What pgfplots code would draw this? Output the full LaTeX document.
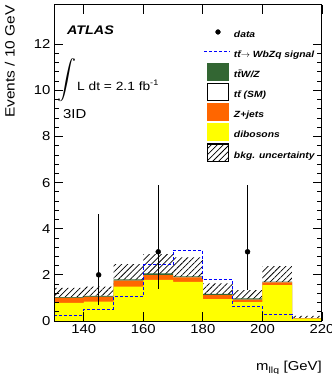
\documentclass[border=0pt]{standalone}
\usepackage{graphicx}
\usepackage{pgfplots}
\pgfplotsset{compat=1.18}
\usepgfplotslibrary{fillbetween}
\usetikzlibrary{patterns.meta}
\usepackage{fontspec}
\setmainfont{Liberation Sans}[FakeStretch=1.15]
\definecolor{dibo}{RGB}{255,255,0}
\definecolor{zjet}{RGB}{255,102,0}
\definecolor{ttv}{RGB}{51,102,51}
\definecolor{sig}{RGB}{0,0,255}
\tikzset{hatchp/.style={pattern={Lines[angle=45,distance=4.2bp,line width=0.75bp]},pattern color=black}}
\begin{document}
\begin{tikzpicture}
\begin{axis}[
  at={(0,0)}, anchor=south west,
  scale only axis, width=268bp, height=316bp,
  xmin=130, xmax=220, ymin=0, ymax=13.7,
  xtick={140,160,180,200,220}, ytick={0,2,4,6,8,10,12},
  minor y tick num=4,
  xtick pos=both, ytick pos=both,
  tick align=inside,
  major tick length=9bp, minor tick length=4.5bp,
  tick style={line width=0.8bp, black},
  axis line style={line width=1bp},
  axis on top,
  /pgf/number format/assume math mode=true,
  /pgf/number format/1000 sep={},
  ticklabel style={font=\fontsize{13}{15}\selectfont},
  xlabel={m\textsubscript{llq} [GeV]},
  ylabel={Events / 10 GeV},
  xlabel style={at={(axis description cs:1,-0.158)}, anchor=base east, inner sep=0pt, font=\fontsize{13}{15}\selectfont},
  ylabel style={at={(axis description cs:-0.157,1)}, anchor=east, yshift=2bp, inner sep=0pt, font=\fontsize{13.5}{15}\selectfont},
  legend cell align=left,
  legend style={at={(0.5597,0.9415)}, anchor=north west, draw=none, fill=none,
    inner sep=0pt, outer sep=0pt, row sep=2.67bp,
    nodes={inner sep=0pt},
    /tikz/every odd column/.append style={column sep=3.5bp},
    font=\bfseries\itshape\fontsize{9}{11}\selectfont},
]
% legend entries
\addlegendimage{legend image code/.code={\path[draw=none,fill=none] (0bp,-5.2bp) rectangle (21bp,11.8bp); \fill[black] (10.5bp,3.3bp) circle (2.4bp);}}
\addlegendentry{data}
\addlegendimage{legend image code/.code={\path[draw=none,fill=none] (0bp,-5.2bp) rectangle (21bp,11.8bp); \draw[sig, line width=1bp, dash pattern=on 3bp off 2bp] (-3bp,3.3bp) -- (22.5bp,3.3bp);}}
\addlegendentry{t\={t}$\rightarrow$ WbZq signal}
\addlegendimage{legend image code/.code={\fill[ttv] (0bp,-5.2bp) rectangle (21bp,11.8bp);}}
\addlegendentry{t\={t}W/Z}
\addlegendimage{legend image code/.code={\draw[black, line width=0.8bp, fill=white] (0bp,-5.2bp) rectangle (21bp,11.8bp);}}
\addlegendentry{t\={t} (SM)}
\addlegendimage{legend image code/.code={\fill[zjet] (0bp,-5.2bp) rectangle (21bp,11.8bp);}}
\addlegendentry{Z+jets}
\addlegendimage{legend image code/.code={\fill[dibo] (0bp,-5.2bp) rectangle (21bp,11.8bp);}}
\addlegendentry{dibosons}
\addlegendimage{legend image code/.code={\fill[white] (0bp,-5.2bp) rectangle (21bp,11.8bp); \fill[hatchp] (0bp,-5.2bp) rectangle (21bp,11.8bp); \draw[black, line width=0.8bp] (0bp,-5.2bp) rectangle (21bp,11.8bp);}}
\addlegendentry{bkg. uncertainty}

% stacked backgrounds (cumulative tops)
\addplot[const plot, fill=ttv, draw=none, forget plot] coordinates {
 (130,1.04) (140,1.09) (150,1.80) (160,2.06) (170,1.94) (180,1.18) (190,0.98) (200,1.71) (210,0.13) (220,0.13)} \closedcycle;
\addplot[const plot, fill=white, draw=none, forget plot] coordinates {
 (130,1.00) (140,1.05) (150,1.75) (160,1.99) (170,1.89) (180,1.12) (190,0.93) (200,1.67) (210,0.11) (220,0.11)} \closedcycle;
\addplot[const plot, fill=zjet, draw=none, forget plot] coordinates {
 (130,1.00) (140,1.05) (150,1.75) (160,1.99) (170,1.89) (180,1.12) (190,0.93) (200,1.67) (210,0.11) (220,0.11)} \closedcycle;
\addplot[const plot, fill=dibo, draw=none, forget plot] coordinates {
 (130,0.79) (140,0.84) (150,1.49) (160,1.78) (170,1.70) (180,0.95) (190,0.82) (200,1.56) (210,0.10) (220,0.10)} \closedcycle;

% uncertainty band
\addplot[const plot, draw=none, name path=unchi, forget plot] coordinates {
 (130,1.44) (140,1.49) (150,2.47) (160,2.90) (170,2.76) (180,1.63) (190,1.34) (200,2.38) (210,0.22) (220,0.22)};
\addplot[const plot, draw=none, name path=unclo, forget plot] coordinates {
 (130,0.51) (140,0.55) (150,1.10) (160,1.25) (170,1.12) (180,0.62) (190,0.55) (200,1.00) (210,0.00) (220,0.00)};
\addplot[hatchp, draw=none, forget plot] fill between[of=unchi and unclo];

% signal
\addplot[const plot, sig, line width=1bp, dash pattern=on 3bp off 2bp, forget plot] coordinates {
 (130,0.22) (140,0.51) (150,1.05) (160,2.43) (170,3.07) (180,1.78) (190,0.65) (200,0.30) (210,0.0) (220,0.0)};

% data
\addplot[only marks, mark=*, mark size=2.5bp, black, forget plot,
  error bars/.cd, y dir=both, y explicit, error mark=none,
  error bar style={line width=1.1bp, black}] coordinates {
 (145,2) += (0,2.63) -= (0,1.31)
 (165,3) += (0,2.89) -= (0,1.63)
 (195,3) += (0,2.89) -= (0,1.66)};

% texts
\node[anchor=base west, inner sep=0pt, font=\bfseries\itshape\fontsize{12.5}{14}\selectfont] at (rel axis cs:0.0485,0.908) {ATLAS};
\node[inner sep=0pt, font=\fontsize{13}{15}\selectfont] at (rel axis cs:0.047,0.763) {\scalebox{1.9}[1.95]{$\displaystyle\int$}};
\node[anchor=base west, inner sep=0pt, font=\fontsize{12}{14}\selectfont] at (rel axis cs:0.086,0.731) {L dt = 2.1 fb\textsuperscript{-1}};
\node[anchor=base west, inner sep=0pt, font=\fontsize{13}{15}\selectfont] at (rel axis cs:0.0336,0.642) {3ID};
\end{axis}
\pgfresetboundingbox
\useasboundingbox (-54bp,-53bp) rectangle (278bp,321bp);
\end{tikzpicture}
\end{document}
